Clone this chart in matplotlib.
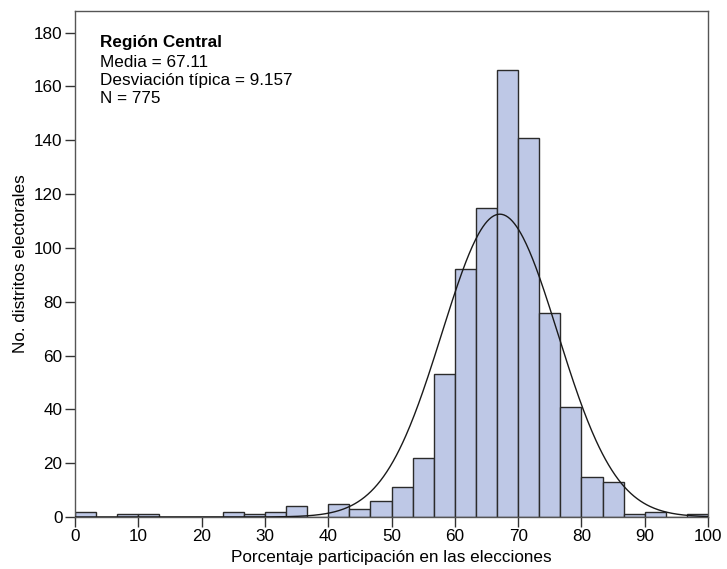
import numpy as np
import matplotlib
matplotlib.use("Agg")
import matplotlib.pyplot as plt

plt.rcParams['font.family'] = ['Liberation Sans', 'DejaVu Sans']

bin_edges = np.linspace(0, 100, 31)
counts = [2, 0, 1, 1, 0, 0, 0, 2, 1, 2, 4, 0, 5, 3, 6, 11, 22, 53, 92, 115,
          166, 141, 76, 41, 15, 13, 1, 2, 0, 1]
mean = 67.11
sd = 9.157
n = 775
xticks = [0, 10, 20, 30, 40, 50, 60, 70, 80, 90, 100]
yticks = [0, 20, 40, 60, 80, 100, 120, 140, 160, 180]

fs = 12.3
fig = plt.figure(figsize=(7.27, 5.69), dpi=100)
ax = fig.add_axes([0.1032, 0.0914, 0.8707, 0.889])

widths = np.diff(bin_edges)
ax.bar(bin_edges[:-1], counts, width=widths, align='edge', color='#bec8e6',
       edgecolor='#2b2b2b', linewidth=1.0, zorder=2)

xs = np.linspace(0, 100, 600)
bw = widths[0]
ys = n * bw / (sd * np.sqrt(2 * np.pi)) * np.exp(-0.5 * ((xs - mean) / sd) ** 2)
ax.plot(xs, ys, color='#1a1a1a', linewidth=1.0, zorder=3)

ax.set_xlim(0, 100)
ax.set_ylim(0, 188)
ax.set_xticks(xticks)
ax.set_yticks(yticks)
ax.tick_params(axis='both', labelsize=fs, length=7, width=1, color='#333333', direction='out', pad=2)
for s in ax.spines.values():
    s.set_color('#555555')
    s.set_linewidth(1.0)

ax.set_xlabel('Porcentaje participación en las elecciones', fontsize=fs, labelpad=4)
ax.set_ylabel('No. distritos electorales', fontsize=fs, labelpad=4)

ax.text(0.04, 0.952, 'Región Central', transform=ax.transAxes, fontsize=fs,
        fontweight='bold', va='top', ha='left')
ax.text(0.04, 0.914, 'Media = %.2f\nDesviación típica = %.3f\nN = %d' % (mean, sd, n),
        transform=ax.transAxes, fontsize=fs, va='top', ha='left', linespacing=1.25)

fig.savefig('out.png', dpi=100)
